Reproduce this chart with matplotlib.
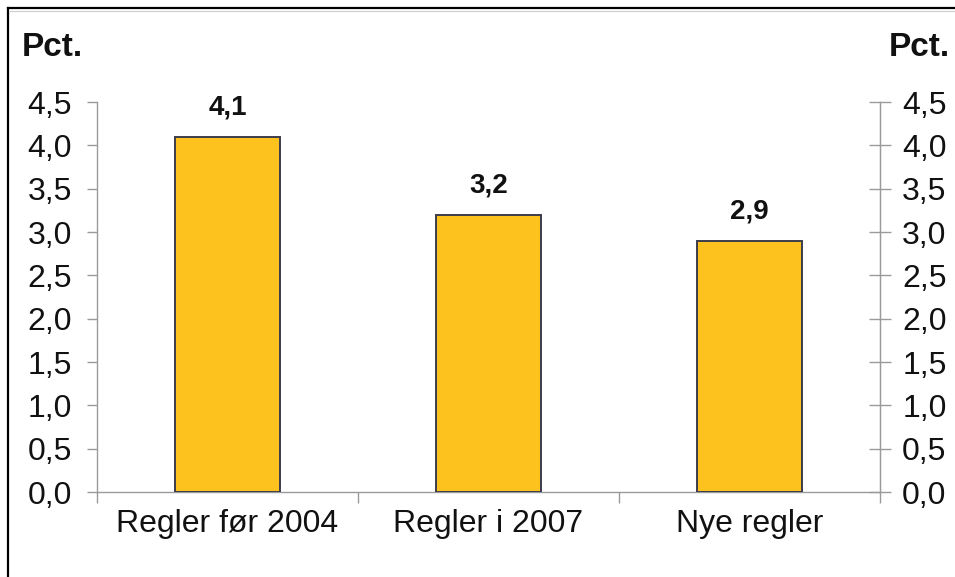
import matplotlib.pyplot as plt
from matplotlib.lines import Line2D

# Data
categories = ['Regler før 2004', 'Regler i 2007', 'Nye regler']
values = [4.1, 3.2, 2.9]
value_labels = ['4,1', '3,2', '2,9']
yticks = [0.0, 0.5, 1.0, 1.5, 2.0, 2.5, 3.0, 3.5, 4.0, 4.5]
ytick_labels = ['0,0', '0,5', '1,0', '1,5', '2,0', '2,5', '3,0', '3,5', '4,0', '4,5']

plt.rcParams['font.family'] = ['Liberation Sans', 'DejaVu Sans']

bar_color = '#FDC21E'
edge_color = '#3c3c4c'
axis_color = '#9a9a9a'
text_color = '#111111'

fig = plt.figure(figsize=(9.55, 5.77), dpi=100)
ax = fig.add_axes([97 / 955, 1 - 492 / 577, (880 - 97) / 955, (492 - 102) / 577])

x = list(range(len(categories)))
ax.bar(x, values, width=0.4, color=bar_color, edgecolor=edge_color, linewidth=1.4, zorder=3)

for xi, v, lab in zip(x, values, value_labels):
    ax.annotate(lab, (xi, v), xytext=(0, 21), textcoords='offset points',
                ha='center', va='center', fontsize=20, fontweight='bold', color=text_color)

ax.set_xlim(-0.5, 2.5)
ax.set_ylim(0, 4.5)

# category labels on major ticks (hidden), boundary ticks as minor ticks
ax.set_xticks(x)
ax.set_xticklabels(categories, fontsize=23, color=text_color)
ax.tick_params(axis='x', which='major', length=0, pad=12)
ax.set_xticks([-0.5, 0.5, 1.5, 2.5], minor=True)
ax.tick_params(axis='x', which='minor', length=8, color=axis_color, width=1)

ax.set_yticks(yticks)
ax.set_yticklabels(ytick_labels, fontsize=23, color=text_color)
ax.tick_params(axis='y', length=7, color=axis_color, width=1, pad=11)

for side in ['left', 'bottom', 'right']:
    ax.spines[side].set_color(axis_color)
    ax.spines[side].set_linewidth(1)
ax.spines['top'].set_visible(False)

# secondary axis on the right
ax2 = ax.twinx()
ax2.set_ylim(0, 4.5)
ax2.set_yticks(yticks)
ax2.set_yticklabels(ytick_labels, fontsize=23, color=text_color)
ax2.tick_params(axis='y', direction='inout', length=16, color=axis_color, width=1, pad=8)
for side in ['left', 'bottom', 'top']:
    ax2.spines[side].set_visible(False)
ax2.spines['right'].set_color(axis_color)

fig.text(22 / 955, 1 - 47 / 577, 'Pct.', fontsize=24, fontweight='bold', va='center', ha='left', color=text_color)
fig.text(950 / 955, 1 - 47 / 577, 'Pct.', fontsize=24, fontweight='bold', va='center', ha='right', color=text_color)

# frame lines
fig.add_artist(Line2D([8 / 955, 8 / 955], [-0.05, 1 - 8 / 577], color='black', linewidth=1.6))
fig.add_artist(Line2D([8 / 955, 1.05], [1 - 8 / 577, 1 - 8 / 577], color='black', linewidth=1.6))
fig.add_artist(Line2D([10 / 955, 1.05], [1 - 10.5 / 577, 1 - 10.5 / 577], color='#cccccc', linewidth=0.8))

fig.savefig('out.png', dpi=100, facecolor='white')
